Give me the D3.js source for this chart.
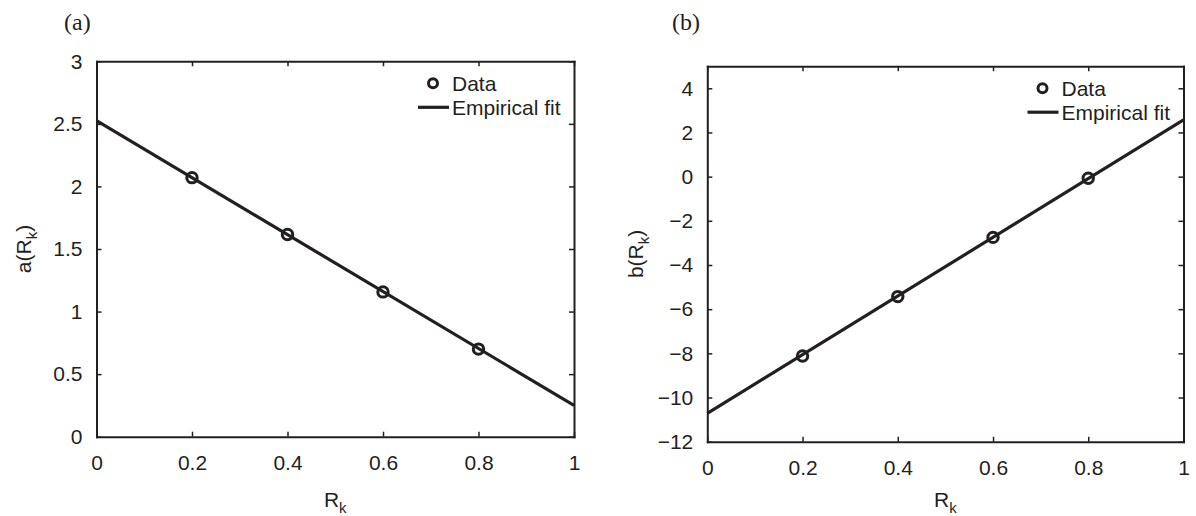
<!DOCTYPE html>
<html>
<head>
<meta charset="utf-8">
<script src="https://cdn.jsdelivr.net/npm/d3@7"></script>
<style>
  body { margin: 0; background: #fff; }
  svg { display: block; }
  .tick text { font-family: "Liberation Sans", Arial, sans-serif; font-size: 21px; fill: #231f20; }
</style>
</head>
<body>
<svg id="chart" width="1196" height="516"></svg>
<script>
// values
const rk = [0.2, 0.4, 0.6, 0.8];
const aData = [2.07, 1.616, 1.157, 0.70];
const bData = [-8.12, -5.43, -2.75, -0.07];
const fitX = [0, 1];
const aFit = [2.525, 0.25];
const bFit = [-10.72, 2.57];
const xTicks = [0, 0.2, 0.4, 0.6, 0.8, 1];
const aTicks = [0, 0.5, 1, 1.5, 2, 2.5, 3];
const bTicks = [-12, -10, -8, -6, -4, -2, 0, 2, 4];

const ink = "#231f20";
const svg = d3.select("#chart");

// one panel = frame, ticks inside, fit line, circle markers, legend
function panel(opts) {
  const { left, right, top, bottom, yDomain, yTicks, dataY, fitY, tag, ylab, tagX, ylabX } = opts;
  const x = d3.scaleLinear().domain([0, 1]).range([left, right]);
  const y = d3.scaleLinear().domain(yDomain).range([bottom, top]);
  const g = svg.append("g");

  const styleAxis = sel => {
    sel.select(".domain").attr("stroke", ink).attr("stroke-width", 2);
    sel.selectAll(".tick line").attr("stroke", ink).attr("stroke-width", 1.5);
  };

  g.append("g").attr("transform", `translate(0,${bottom})`)
    .call(d3.axisBottom(x).tickValues(xTicks).tickSizeInner(-5).tickSizeOuter(0).tickPadding(18).tickFormat(d3.format("")))
    .call(styleAxis);
  g.append("g").attr("transform", `translate(${left},0)`)
    .call(d3.axisLeft(y).tickValues(yTicks).tickSizeInner(-5).tickSizeOuter(0).tickPadding(14).tickFormat(d3.format("")))
    .call(styleAxis);
  g.append("g").attr("transform", `translate(0,${top})`)
    .call(d3.axisTop(x).tickValues(xTicks).tickSizeInner(-5).tickSizeOuter(0).tickFormat(""))
    .call(styleAxis);
  g.append("g").attr("transform", `translate(${right},0)`)
    .call(d3.axisRight(y).tickValues(yTicks).tickSizeInner(-5).tickSizeOuter(0).tickFormat(""))
    .call(styleAxis);
  g.selectAll(".domain").attr("stroke-linecap", "square");

  // empirical fit
  const line = d3.line().x(d => x(d[0])).y(d => y(d[1]));
  g.append("path")
    .datum(fitX.map((v, i) => [v, fitY[i]]))
    .attr("d", line)
    .attr("fill", "none")
    .attr("stroke", ink)
    .attr("stroke-width", 3.2);

  // data markers
  g.selectAll("circle.pt")
    .data(rk.map((v, i) => [v, dataY[i]]))
    .enter().append("circle")
    .attr("class", "pt")
    .attr("cx", d => x(d[0]))
    .attr("cy", d => y(d[1]))
    .attr("r", 5.2)
    .attr("fill", "none")
    .attr("stroke", ink)
    .attr("stroke-width", 3);

  // legend
  const lx = right - 141, ly = top + 22;
  g.append("circle").attr("cx", lx).attr("cy", ly).attr("r", 4.5)
    .attr("fill", "none").attr("stroke", ink).attr("stroke-width", 3);
  g.append("line").attr("x1", lx - 15).attr("x2", lx + 16)
    .attr("y1", ly + 24).attr("y2", ly + 24)
    .attr("stroke", ink).attr("stroke-width", 3.2);
  const lt = g.append("g")
    .attr("font-family", "Liberation Sans, Arial, sans-serif")
    .attr("font-size", 21).attr("fill", ink);
  lt.append("text").attr("x", lx + 19).attr("y", ly + 8).text("Data");
  lt.append("text").attr("x", lx + 19).attr("y", ly + 32).text("Empirical fit");

  // panel tag
  g.append("text").attr("x", tagX).attr("y", 30)
    .attr("font-family", "Liberation Serif, Times New Roman, serif")
    .attr("font-size", 24).attr("fill", ink).text(tag);

  // x label
  const xl = g.append("text")
    .attr("x", (left + right) / 2).attr("y", 507)
    .attr("text-anchor", "middle")
    .attr("font-family", "Liberation Sans, Arial, sans-serif")
    .attr("font-size", 21).attr("fill", ink);
  xl.append("tspan").text("R");
  xl.append("tspan").attr("dy", 6).attr("font-size", 15).text("k");

  // y label
  const yl = g.append("text")
    .attr("transform", `translate(${ylabX},${(top + bottom) / 2}) rotate(-90)`)
    .attr("text-anchor", "middle")
    .attr("font-family", "Liberation Sans, Arial, sans-serif")
    .attr("font-size", 21).attr("fill", ink);
  yl.append("tspan").text(ylab + "(R");
  yl.append("tspan").attr("dy", 6).attr("font-size", 15).text("k");
  yl.append("tspan").attr("dy", -6).text(")");
}

panel({
  left: 96.5, right: 574, top: 61.3, bottom: 436.7,
  yDomain: [0, 3], yTicks: aTicks, dataY: aData, fitY: aFit,
  tag: "(a)", ylab: "a", tagX: 64, ylabX: 31
});
panel({
  left: 707.3, right: 1183.5, top: 66.2, bottom: 441.7,
  yDomain: [-12, 5], yTicks: bTicks, dataY: bData, fitY: bFit,
  tag: "(b)", ylab: "b", tagX: 672, ylabX: 643
});
</script>
</body>
</html>
